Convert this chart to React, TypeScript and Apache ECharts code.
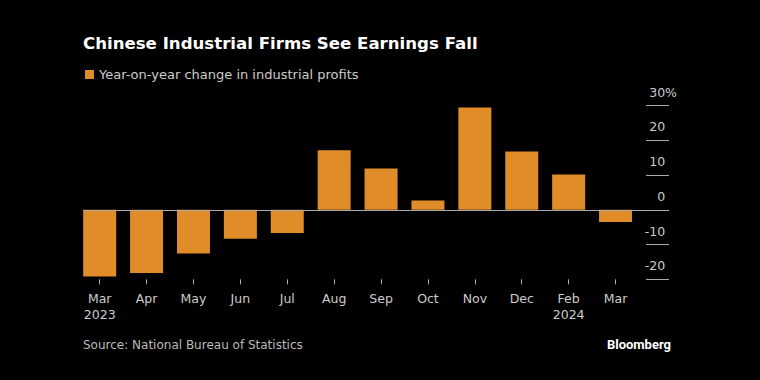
import React, { useEffect, useRef } from "react";
import * as echarts from "echarts";

const months = ["Mar\n2023", "Apr", "May", "Jun", "Jul", "Aug", "Sep", "Oct", "Nov", "Dec", "Feb\n2024", "Mar"];
const profitChange = [-19.2, -18.2, -12.6, -8.3, -6.7, 17.2, 11.9, 2.7, 29.5, 16.8, 10.2, -3.5];
const yTicks = [-20, -10, 0, 10, 20, 30];
const seriesName = "Year-on-year change in industrial profits";

export default function App() {
  const ref = useRef<HTMLDivElement>(null);
  useEffect(() => {
    if (!ref.current) return;
    const chart = echarts.init(ref.current, undefined, { renderer: "svg" });
    const idx = months.map((_, i) => i);
    chart.setOption({
      animation: false,
      backgroundColor: "#000000",
      textStyle: { fontFamily: "DejaVu Sans" },
      title: {
        text: "Chinese Industrial Firms See Earnings Fall",
        left: 83,
        top: 35,
        padding: 0,
        textStyle: { color: "#ffffff", fontSize: 16.6, fontWeight: "bold", fontFamily: "DejaVu Sans" },
      },
      legend: {
        left: 85,
        top: 68,
        padding: 0,
        icon: "rect",
        itemWidth: 9,
        itemHeight: 9,
        itemGap: 6,
        textStyle: { color: "#cccccc", fontSize: 13, fontFamily: "DejaVu Sans" },
        data: [seriesName],
      },
      grid: { left: 83, right: 91, top: 105.7, bottom: 100.7, containLabel: false },
      xAxis: {
        type: "value",
        min: -0.356,
        max: 12.14,
        axisLine: { show: false, onZero: false },
        splitLine: { show: false },
        axisTick: { show: true, customValues: idx, length: 5, lineStyle: { color: "#aaaaaa" } },
        axisLabel: {
          customValues: idx,
          formatter: (v: number) => months[Math.round(v)] ?? "",
          color: "#cccccc",
          fontSize: 12.5,
          lineHeight: 16,
          margin: 11,
        },
      },
      yAxis: {
        type: "value",
        position: "right",
        min: -20,
        max: 30,
        interval: 10,
        axisLine: { show: false, onZero: false },
        splitLine: { show: false },
        axisTick: { show: true, inside: true, length: 23, lineStyle: { color: "#aaaaaa" } },
        axisLabel: {
          inside: true,
          margin: -8,
          align: "right",
          verticalAlign: "bottom",
          padding: [0, 0, 7, 0],
          color: "#cccccc",
          fontSize: 12.5,
          customValues: yTicks,
          formatter: (v: number) => (v === 30 ? "{n|30}{p|%}" : "{n|" + String(v) + "}{h|%}"),
          rich: {
            n: { color: "#cccccc", fontSize: 12.5, fontFamily: "DejaVu Sans" },
            p: { color: "#cccccc", fontSize: 12.5, fontFamily: "DejaVu Sans" },
            h: { color: "rgba(0,0,0,0)", fontSize: 12.5, fontFamily: "DejaVu Sans" },
          },
        },
      },
      series: [
        {
          name: seriesName,
          type: "bar",
          barWidth: 33,
          itemStyle: { color: "#df8c29" },
          data: profitChange.map((v, i) => [i, v]),
          markLine: {
            silent: true,
            symbol: "none",
            label: { show: false },
            lineStyle: { color: "#aaaaaa", width: 1, type: "solid" },
            data: [{ yAxis: 0 }],
          },
        },
      ],
      graphic: [
        {
          type: "text",
          left: 83,
          top: 339,
          style: { text: "Source: National Bureau of Statistics", fill: "#bbbbbb", fontSize: 12, fontFamily: "DejaVu Sans" },
        },
        {
          type: "text",
          right: 89,
          top: 338,
          style: { text: "Bloomberg", fill: "#ffffff", fontSize: 13, fontWeight: "bold", fontFamily: "Roboto" },
        },
      ],
    });
    return () => chart.dispose();
  }, []);
  return <div ref={ref} style={{ position: "fixed", left: 0, top: 0, width: 760, height: 380 }} />;
}
